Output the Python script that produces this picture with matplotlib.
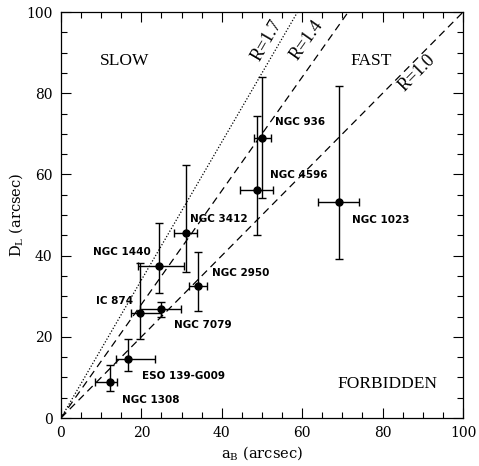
import matplotlib
matplotlib.use("Agg")
import matplotlib.pyplot as plt
import numpy as np

plt.rcParams["mathtext.fontset"] = "dejavuserif"

names = ["NGC 1308", "ESO 139-G009", "IC 874", "NGC 7079", "NGC 1440",
         "NGC 3412", "NGC 2950", "NGC 4596", "NGC 936", "NGC 1023"]
aB = [12.2, 16.7, 19.6, 24.8, 24.3, 31.0, 34.2, 48.8, 50.0, 69.1]
aB_lo = [8.4, 13.6, 17.3, 19.7, 19.2, 28.1, 31.8, 44.5, 48.0, 64.0]
aB_hi = [14.0, 23.4, 24.8, 29.8, 30.6, 33.9, 36.2, 52.8, 52.2, 74.2]
DL = [8.9, 14.5, 25.9, 26.8, 37.5, 45.6, 32.4, 56.2, 69.0, 53.1]
DL_lo = [6.7, 11.6, 19.5, 24.9, 30.8, 35.9, 26.4, 45.1, 54.1, 39.1]
DL_hi = [13.1, 19.5, 38.1, 28.6, 48.1, 62.3, 41.0, 74.4, 84.1, 81.9]
label_x = [15.3, 20.1, 8.7, 28.1, 7.9, 32.1, 37.5, 52.0, 53.2, 72.3]
label_y = [4.4, 10.3, 28.8, 22.9, 40.8, 49.0, 35.8, 59.9, 72.9, 48.9]
ratios = [1.7, 1.4, 1.0]
ratio_styles = [":", "--", "--"]
ratio_label_pos = [(51.2, 93.0), (61.2, 93.2), (88.6, 85.0)]

fig = plt.figure(figsize=(4.79, 4.66), dpi=100)
ax = fig.add_axes([0.1273, 0.103, 0.8393, 0.871])

aB = np.array(aB); DL = np.array(DL)
xerr = [aB - np.array(aB_lo), np.array(aB_hi) - aB]
yerr = [DL - np.array(DL_lo), np.array(DL_hi) - DL]
ax.errorbar(aB, DL, xerr=xerr, yerr=yerr, fmt="o", color="black",
            ms=5, elinewidth=1.0, capsize=3, capthick=1.0, zorder=3)

xs = np.array([0, 100])
for r, ls, (lx, ly) in zip(ratios, ratio_styles, ratio_label_pos):
    ax.plot(xs, r * xs, ls=ls, color="black", lw=0.9,
            dashes=(6, 4) if ls == "--" else (1, 1.5))
    ang = np.degrees(np.arctan(r * (0.871 * 466) / (0.8393 * 479)))
    ax.text(lx, ly, f"R={r:.1f}", rotation=ang, ha="center", va="center",
            family="Liberation Serif", fontsize=13)

for n, x, y in zip(names, label_x, label_y):
    ax.text(x, y, n, ha="left", va="center", family="DejaVu Sans",
            fontsize=7.5, fontweight="bold")

ax.text(9.7, 88.0, "SLOW", ha="left", va="center",
        family="Liberation Serif", fontsize=12.5)
ax.text(77.1, 88.0, "FAST", ha="center", va="center",
        family="Liberation Serif", fontsize=12.5)
ax.text(81.3, 8.3, "FORBIDDEN", ha="center", va="center",
        family="Liberation Serif", fontsize=12.5)

ax.set_xlim(0, 100)
ax.set_ylim(0, 100)
ax.set_xticks(np.arange(0, 101, 20))
ax.set_yticks(np.arange(0, 101, 20))
ax.set_xticks(np.arange(0, 101, 5), minor=True)
ax.set_yticks(np.arange(0, 101, 5), minor=True)
ax.tick_params(which="both", direction="in", top=True, right=True, width=0.8)
ax.tick_params(which="major", length=7.5, labelsize=10, pad=6)
ax.tick_params(which="minor", length=4)
for lbl in ax.get_xticklabels() + ax.get_yticklabels():
    lbl.set_family("DejaVu Serif")
for s in ax.spines.values():
    s.set_linewidth(0.9)
ax.set_xlabel(r"a$_{\rm B}$ (arcsec)", family="DejaVu Serif", fontsize=10.5, labelpad=3)
ax.set_ylabel(r"D$_{\rm L}$ (arcsec)", family="DejaVu Serif", fontsize=10.5, labelpad=1)

fig.savefig("out.png", dpi=100)
